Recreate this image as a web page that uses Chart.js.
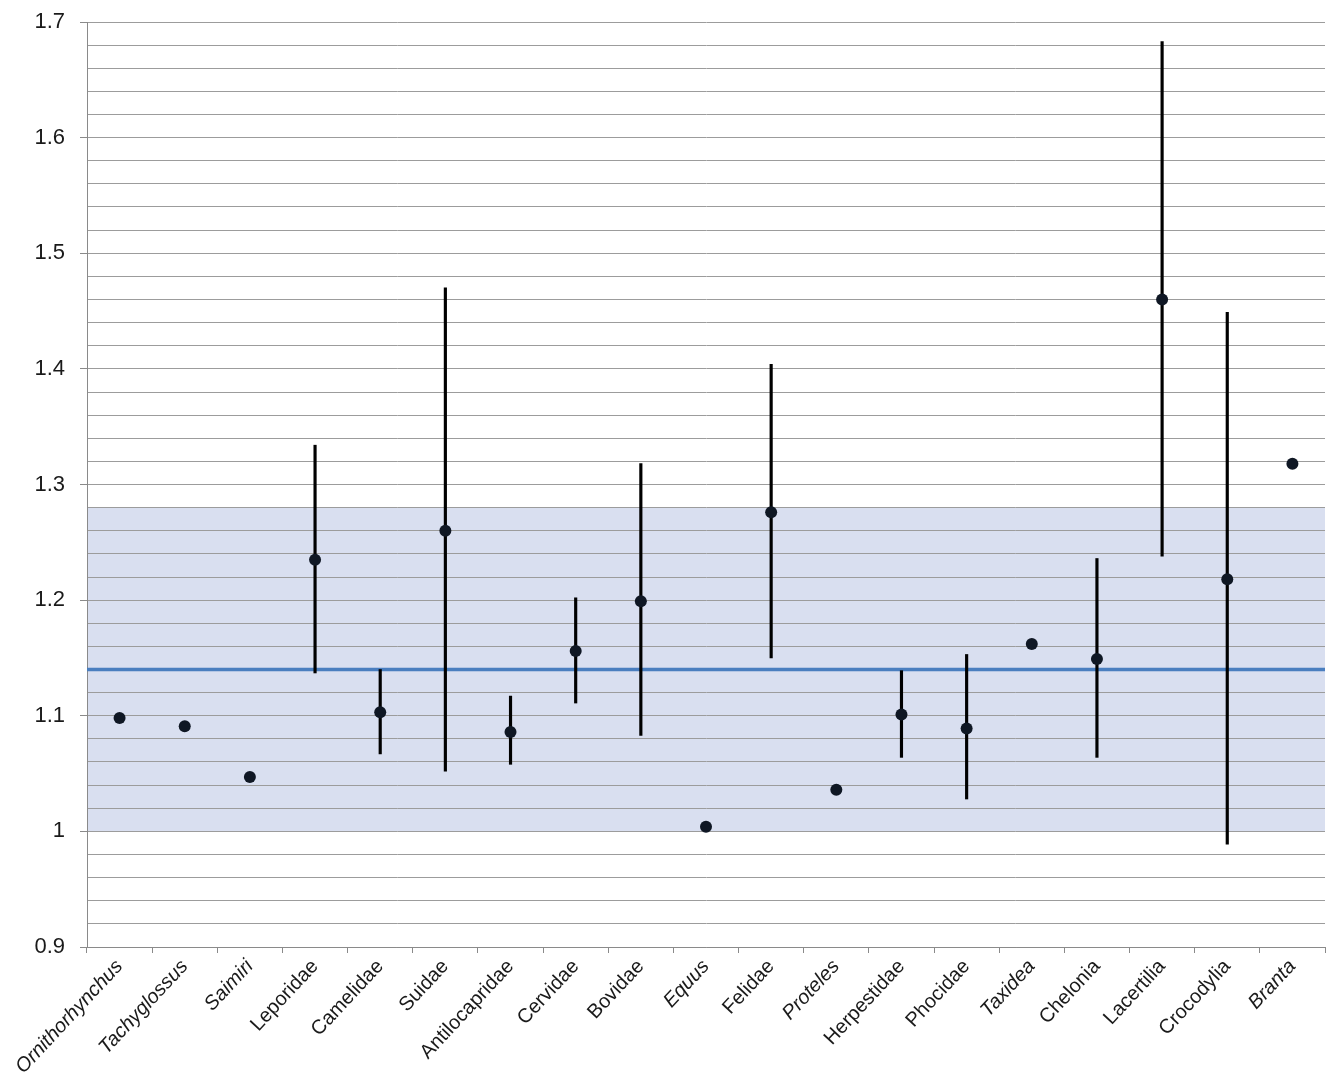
<!DOCTYPE html>
<html>
<head>
<meta charset="utf-8">
<script src="https://cdn.jsdelivr.net/npm/chart.js@4.4.1/dist/chart.umd.min.js"></script>
<style>
  html, body { margin: 0; padding: 0; background: #fff; }
  #wrap { width: 1331px; height: 1087px; }
</style>
</head>
<body>
<div id="wrap"><canvas id="chart" width="1331" height="1087"></canvas></div>
<script>
// Taxa along the x axis
const taxa = ['Ornithorhynchus', 'Tachyglossus', 'Saimiri', 'Leporidae', 'Camelidae', 'Suidae',
    'Antilocapridae', 'Cervidae', 'Bovidae', 'Equus', 'Felidae', 'Proteles', 'Herpestidae',
    'Phocidae', 'Taxidea', 'Chelonia', 'Lacertilia', 'Crocodylia', 'Branta'];
// Genus names are set in italics
const italicTaxa = ['Ornithorhynchus', 'Tachyglossus', 'Saimiri', 'Equus', 'Proteles', 'Taxidea', 'Branta'];

// Point values
const values = [1.098, 1.091, 1.047, 1.235, 1.103, 1.260, 1.086, 1.156, 1.199, 1.004, 1.276,
    1.036, 1.101, 1.089, 1.162, 1.149, 1.460, 1.218, 1.318];
// Range low / high (null = no range)
const rangeLow = [null, null, null, 1.137, 1.067, 1.052, 1.058, 1.111, 1.083, null, 1.150,
    null, 1.064, 1.028, null, 1.064, 1.238, 0.989, null];
const rangeHigh = [null, null, null, 1.334, 1.140, 1.470, 1.117, 1.202, 1.318, null, 1.404,
    null, 1.139, 1.153, null, 1.236, 1.683, 1.449, null];

// Shaded band and mean line
const bandLow = 1.0;
const bandHigh = 1.28;
const meanValue = 1.14;

const ranges = rangeLow.map((lo, i) => (lo === null ? null : [lo, rangeHigh[i]]));

const FONT = '"Liberation Sans", Arial, sans-serif';

// Band behind the grid, mean line behind the marks
const bandPlugin = {
    id: 'band',
    beforeDraw(chart) {
        const { ctx, chartArea, scales } = chart;
        const yTop = scales.y.getPixelForValue(bandHigh);
        const yBot = scales.y.getPixelForValue(bandLow);
        ctx.save();
        ctx.fillStyle = '#d9dff0';
        ctx.fillRect(chartArea.left, yTop, chartArea.right - chartArea.left, yBot - yTop);
        ctx.restore();
    },
    beforeDatasetsDraw(chart) {
        const { ctx, chartArea, scales } = chart;
        const y = scales.y.getPixelForValue(meanValue);
        ctx.save();
        ctx.strokeStyle = '#4a7ebf';
        ctx.lineWidth = 3.5;
        ctx.beginPath();
        ctx.moveTo(chartArea.left, y);
        ctx.lineTo(chartArea.right, y);
        ctx.stroke();
        ctx.restore();
    }
};

const isMajor = v => Math.round(v * 100) % 10 === 0;

new Chart(document.getElementById('chart').getContext('2d'), {
    type: 'bar',
    data: {
        labels: taxa,
        datasets: [
            {
                type: 'line',
                label: 'Value',
                data: values,
                showLine: false,
                pointRadius: 6,
                pointBackgroundColor: '#0f1724',
                pointBorderColor: '#0f1724',
                pointBorderWidth: 0,
                order: 0
            },
            {
                type: 'bar',
                label: 'Range',
                data: ranges,
                backgroundColor: '#000',
                barThickness: 2.5,
                order: 1
            }
        ]
    },
    options: {
        responsive: false,
        animation: false,
        layout: { padding: { top: 22, right: 6, left: 0, bottom: 0 } },
        plugins: {
            legend: { display: false },
            tooltip: { enabled: false }
        },
        scales: {
            x: {
                offset: true,
                grid: {
                    display: true,
                    offset: true,
                    drawOnChartArea: false,
                    drawTicks: true,
                    tickLength: 6,
                    color: '#8a8a8a'
                },
                border: { display: true, color: '#8a8a8a' },
                ticks: {
                    autoSkip: false,
                    minRotation: 47,
                    maxRotation: 47,
                    padding: 2,
                    color: '#1a1a1a',
                    font: ctx => ({
                        family: FONT,
                        size: 20,
                        style: italicTaxa.includes(taxa[ctx.index]) ? 'italic' : 'normal'
                    })
                },
                afterFit: scale => { scale.height = 140; }
            },
            y: {
                min: 0.9,
                max: 1.7,
                grid: {
                    color: '#9c9c9c',
                    lineWidth: 1,
                    tickLength: 7,
                    tickColor: ctx => (ctx.tick && isMajor(ctx.tick.value) ? '#8a8a8a' : 'rgba(0,0,0,0)')
                },
                border: { display: true, color: '#8a8a8a' },
                ticks: {
                    stepSize: 0.02,
                    autoSkip: false,
                    padding: 15,
                    color: '#1a1a1a',
                    font: { family: FONT, size: 22 },
                    callback: v => (isMajor(v) ? String(Math.round(v * 10) / 10) : '')
                },
                afterFit: scale => {
                    scale.width = 87;
                    scale.paddingTop = 0;
                    scale.paddingBottom = 0;
                }
            }
        }
    },
    plugins: [bandPlugin]
});
</script>
</body>
</html>
